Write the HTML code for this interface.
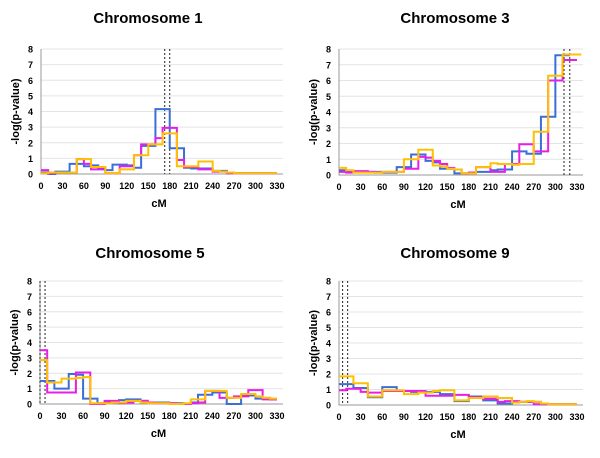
<!DOCTYPE html>
<html><head><meta charset="utf-8"><style>
body{margin:0;background:#fff;width:600px;height:453px;overflow:hidden}
svg text{font-family:"Liberation Sans",Arial,sans-serif;fill:#000}
</style></head><body>
<svg id="s" width="600" height="453"></svg>
<script>
const xTicks=[0,30,60,90,120,150,180,210,240,270,300,330];
const yTicks=[0,1,2,3,4,5,6,7,8];
const chr1Blue=[0.1,0,0.15,0.15,0.65,0.65,0.5,0.55,0.35,0.25,0.6,0.6,0.55,0.4,1.8,1.8,4.15,4.15,1.65,1.65,0.4,0.35,0.35,0.35,0.2,0.2,0.1,0.05,0.05,0.05,0.05,0.05,0.05];
const chr1Mag=[0.25,0.05,0.1,0.1,0.1,0.95,0.65,0.3,0.3,0.05,0.05,0.5,0.5,1.2,1.9,1.9,2.3,2.95,2.95,0.9,0.45,0.45,0.3,0.3,0.15,0.15,0.05,0.05,0.05,0.05,0.05,0.05,0.05];
const chr1Yel=[0.05,0.1,0.1,0.1,0.1,0.95,0.95,0.45,0.45,0.05,0.05,0.3,0.3,1.2,1.2,1.9,1.9,2.6,2.6,0.5,0.5,0.5,0.8,0.8,0.2,0.15,0.1,0.05,0.05,0.05,0.05,0.05,0.05];
const chr3Blue=[0.3,0.2,0.2,0.2,0.2,0.2,0.15,0.15,0.5,0.5,1.3,1.3,0.9,0.8,0.4,0.4,0.1,0.1,0.15,0.2,0.2,0.3,0.35,0.35,1.5,1.5,1.35,1.35,3.7,3.7,7.6,7.6];
const chr3Mag=[0.2,0.15,0.25,0.25,0.2,0.15,0.2,0.2,0.2,0.4,0.4,1.15,1.1,0.9,0.7,0.45,0.35,0.1,0.15,0.5,0.5,0.2,0.2,0.7,0.7,1.95,1.95,1.5,1.5,6.0,6.0,7.3,7.3];
const chr3Yel=[0.45,0.3,0.15,0.15,0.15,0.15,0.2,0.2,0.2,1.0,1.0,1.6,1.6,0.6,0.55,0.4,0.35,0.1,0.1,0.5,0.5,0.75,0.7,0.7,0.65,0.7,0.7,2.75,2.75,6.3,6.3,7.65,7.65,7.65];
const chr5Blue=[1.5,1.5,1.0,1.0,1.95,1.9,0.35,0.35,0.05,0.1,0.1,0.25,0.3,0.3,0.2,0.1,0.1,0.1,0.05,0.05,0,0.1,0.6,0.6,0.75,0.75,0,0,0.55,0.55,0.35,0.4,0.3];
const chr5Mag=[3.5,0.75,0.75,0.75,0.75,2.05,2.05,0,0,0.2,0.2,0.05,0.1,0.2,0.2,0.1,0.05,0.05,0.05,0,0,0.05,0.1,0.85,0.85,0.4,0.4,0.5,0.5,0.9,0.9,0.3,0.3];
const chr5Yel=[2.85,1.4,1.4,1.65,1.65,1.7,1.75,0.05,0.05,0.05,0.1,0.1,0.2,0.2,0.1,0.05,0.05,0.05,0,0,0.05,0.3,0.3,0.85,0.85,0.85,0.4,0.4,0.65,0.65,0.5,0.4,0.35];
const chr9Blue=[1.35,1.35,1.1,1.1,0.5,0.5,1.15,1.15,0.9,0.9,0.85,0.85,0.85,0.85,0.7,0.7,0.25,0.25,0.55,0.55,0.3,0.3,0.1,0.1,0.2,0.2,0.2,0.2,0.05,0.05,0.05,0.05,0.05];
const chr9Mag=[0.95,1.05,1.05,0.85,0.8,0.8,0.9,0.9,0.9,0.9,0.9,0.9,0.6,0.6,0.6,0.6,0.65,0.65,0.5,0.5,0.4,0.4,0.2,0.25,0.25,0.2,0.2,0.05,0.05,0.05,0.05,0.05,0.05];
const chr9Yel=[1.85,1.85,1.4,1.4,0.55,0.55,0.95,0.95,0.95,0.7,0.7,0.8,0.8,0.9,0.95,0.95,0.3,0.3,0.45,0.45,0.55,0.55,0.45,0.45,0.15,0.2,0.25,0.2,0.1,0.05,0.05,0.05,0.05];
const titles=["Chromosome 1","Chromosome 3","Chromosome 5","Chromosome 9"];
const markers=[[173,180],[312,320],[0,7],[5,12]];
const panels=[
 {x0:41,x1:277,y0:174,y8:49,ty:23,tx:148,s:[chr1Blue,chr1Mag,chr1Yel]},
 {x0:339,x1:577,y0:175,y8:49,ty:23,tx:455,s:[chr3Blue,chr3Mag,chr3Yel]},
 {x0:40,x1:277,y0:404,y8:281,ty:258,tx:150,s:[chr5Blue,chr5Mag,chr5Yel]},
 {x0:339,x1:577,y0:405,y8:281,ty:258,tx:455,s:[chr9Blue,chr9Mag,chr9Yel]}];
const colors=["#3a6ed8","#e81ee8","#ffc000"];
const names=["blue","magenta","yellow"];
const S=document.getElementById('s');const NS="http://www.w3.org/2000/svg";
function mk(t,a,txt){const e=document.createElementNS(NS,t);for(const k in a)e.setAttribute(k,a[k]);if(txt!==undefined)e.textContent=txt;S.appendChild(e);return e;}
panels.forEach((p,i)=>{
 const X=v=>p.x0+(p.x1-p.x0)*v/330, Y=v=>p.y0+(p.y8-p.y0)*v/8;
 let t=mk('text',{x:p.tx,y:p.ty,'text-anchor':'middle','font-size':15,'font-weight':'bold'},titles[i]);
 
 
 yTicks.forEach(v=>{
  if(v>0){let g=mk('line',{x1:p.x0,x2:p.x1+6,y1:Y(v),y2:Y(v),stroke:'#e4e4e4','stroke-width':1});
  
  }
  let l=mk('text',{x:p.x0-8,y:Y(v)+3.5,'text-anchor':'end','font-size':9,'font-weight':'bold'},v);
  
  
 });
 xTicks.forEach(v=>{
  let l=mk('text',{x:X(v),y:p.y0+15,'text-anchor':'middle','font-size':9,'font-weight':'bold'},v);
  
  
 });
 let ax=mk('path',{d:`M${p.x0},${p.y8}V${p.y0}H${p.x1+6}`,fill:'none',stroke:'#999','stroke-width':1});
 
 
 let yl=mk('text',{transform:`translate(${p.x0-22},${(p.y0+p.y8)/2}) rotate(-90)`,'text-anchor':'middle','font-size':11,'font-weight':'bold'},'-log(p-value)');
 
 
 let xl=mk('text',{x:(p.x0+p.x1)/2,y:p.y0+33,'text-anchor':'middle','font-size':11,'font-weight':'bold'},'cM');
 
 
 markers[i].forEach(m=>{
  let d=mk('line',{x1:X(m),x2:X(m),y1:p.y8,y2:p.y0,stroke:'#222','stroke-width':1,'stroke-dasharray':'2,2'});
  
  
 });
 p.s.forEach((arr,j)=>{
  let d='';arr.forEach((v,k)=>{d+=(k?'V':'M'+X(0)+',')+Y(v)+'H'+X(Math.min((k+1)*10,336));});
  let pa=mk('path',{d:d,fill:'none',stroke:colors[j],'stroke-width':2});
  
  
 });
});
</script>
</body></html>
